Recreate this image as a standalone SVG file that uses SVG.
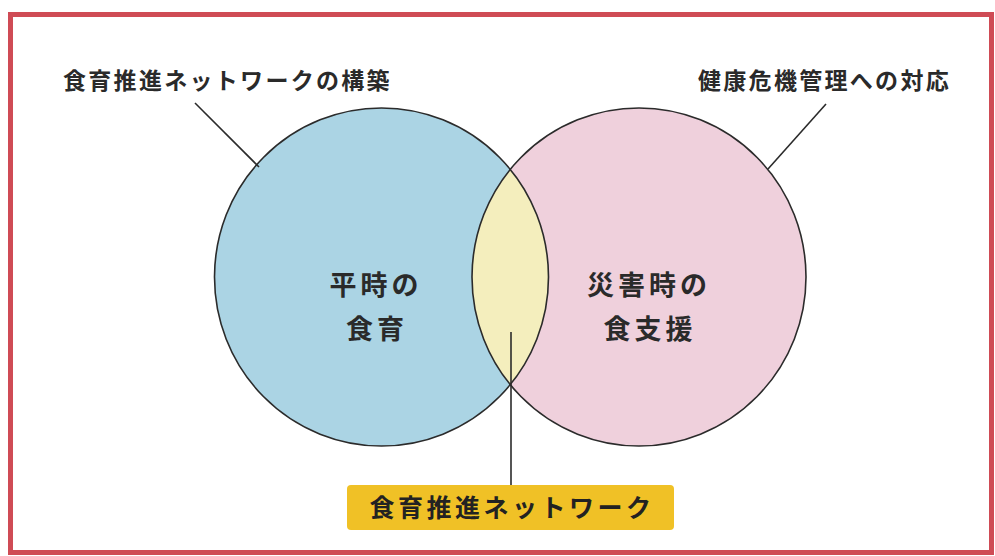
<svg xmlns="http://www.w3.org/2000/svg" width="995" height="556" viewBox="0 0 995 556">
  <style>
    .t { font-family: "Noto Sans CJK JP", "Noto Sans", sans-serif; font-weight: 700; fill: #2a2a2a; }
    .lbl { font-size: 23px; letter-spacing: 2.3px; }
    .ctr { font-size: 27px; letter-spacing: 4px; text-anchor: middle; }
    .box { font-size: 25px; letter-spacing: 3.5px; text-anchor: middle; fill: #222; }
    .ring { fill: none; stroke: #2b2b2b; stroke-width: 1.6; }
    .lead { stroke: #2b2b2b; stroke-width: 1.6; fill: none; }
  </style>
  <rect x="0" y="0" width="995" height="556" fill="#ffffff"/>
  <rect id="frame" x="10.5" y="14.5" width="981" height="538" fill="none" stroke="#cf4b55" stroke-width="5"/>

  <g id="left-circle">
    <ellipse cx="381.5" cy="277" rx="167" ry="169" fill="#abd4e4"/>
  </g>
  <g id="right-circle">
    <ellipse cx="639" cy="277" rx="167" ry="169" fill="#efd0dc"/>
  </g>
  <g id="overlap">
    <path d="M510.25 169.4 A167 169 0 0 1 510.25 384.6 A167 169 0 0 1 510.25 169.4 Z" fill="#f4eebd"/>
  </g>
  <g id="outlines">
    <ellipse class="ring" cx="381.5" cy="277" rx="167" ry="169"/>
    <ellipse class="ring" cx="639" cy="277" rx="167" ry="169"/>
  </g>

  <g id="connectors">
    <line class="lead" x1="195" y1="103" x2="259" y2="167"/>
    <line class="lead" x1="826" y1="104" x2="768" y2="169"/>
    <line class="lead" x1="511" y1="332" x2="511" y2="485"/>
  </g>

  <g id="label-left">
    <text class="t lbl" x="63" y="89">食育推進ネットワークの構築</text>
  </g>
  <g id="label-right">
    <text class="t lbl" x="698" y="89">健康危機管理への対応</text>
  </g>
  <g id="text-left">
    <text class="t ctr" x="376" y="295">平時の</text>
    <text class="t ctr" x="377" y="339">食育</text>
  </g>
  <g id="text-right">
    <text class="t ctr" x="649" y="295">災害時の</text>
    <text class="t ctr" x="650" y="339">食支援</text>
  </g>
  <g id="network-box">
    <rect x="347" y="485" width="327" height="45" rx="4" fill="#f0c126"/>
    <text class="t box" x="512" y="517">食育推進ネットワーク</text>
  </g>
</svg>
